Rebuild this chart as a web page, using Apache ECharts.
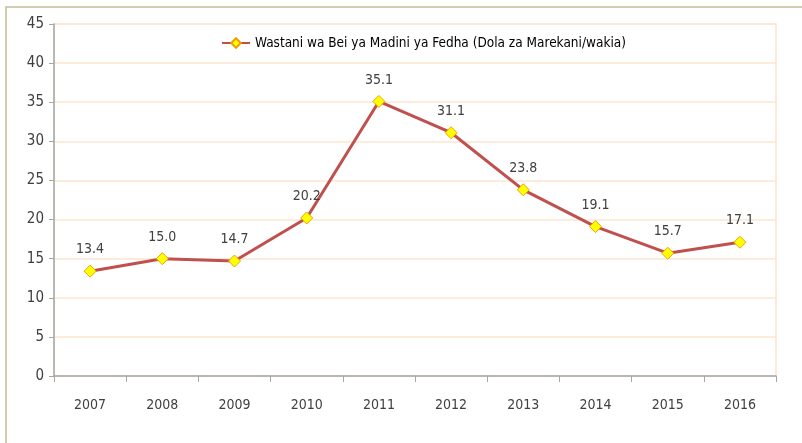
<!DOCTYPE html>
<html>
<head>
<meta charset="utf-8">
<script src="https://cdn.jsdelivr.net/npm/echarts@6/dist/echarts.min.js"></script>
<style>
html, body { margin: 0; padding: 0; background: #fff; }
#chart { width: 802px; height: 443px; }
</style>
</head>
<body>
<div id="chart"></div>
<script>
var years = ['2007', '2008', '2009', '2010', '2011', '2012', '2013', '2014', '2015', '2016'];
var bei = [13.4, 15.0, 14.7, 20.2, 35.1, 31.1, 23.8, 19.1, 15.7, 17.1];
var seriesName = 'Wastani wa Bei ya Madini ya Fedha (Dola za Marekani/wakia)';

var font = '"Liberation Sans Narrow", "DejaVu Sans Condensed", sans-serif';

var chart = echarts.init(document.getElementById('chart'));
chart.setOption({
  animation: false,
  textStyle: { fontFamily: font },
  // outer frame of the chart area
  graphic: [{
    type: 'rect',
    shape: { x: 6, y: 7, width: 900, height: 500 },
    style: { fill: 'none', stroke: '#c4bd97', lineWidth: 1.5 },
    silent: true
  }],
  legend: {
    data: [seriesName],
    left: 216,
    top: 31,
    itemWidth: 28,
    itemHeight: 12,
    itemGap: 3,
    textStyle: { fontFamily: font, fontSize: 13.5, color: '#000' }
  },
  grid: {
    left: 54,
    top: 24,
    right: 26,
    bottom: 67,
    show: true,
    borderColor: '#fde4d0',
    borderWidth: 1.5
  },
  xAxis: {
    type: 'category',
    data: years,
    boundaryGap: true,
    axisLine: { lineStyle: { color: '#a6a6a6', width: 1.5 } },
    axisTick: { show: true, length: 6, lineStyle: { color: '#a6a6a6' } },
    axisLabel: { color: '#404040', fontSize: 14, margin: 22, fontFamily: font }
  },
  yAxis: {
    type: 'value',
    min: 0,
    max: 45,
    interval: 5,
    axisLine: { show: true, lineStyle: { color: '#a6a6a6', width: 1.5 } },
    axisTick: { show: true, length: 5, lineStyle: { color: '#a6a6a6' } },
    axisLabel: { color: '#404040', fontSize: 15, margin: 10, fontFamily: font },
    splitLine: { lineStyle: { color: '#fde4d0', width: 1.5 } }
  },
  series: [{
    name: seriesName,
    type: 'line',
    data: bei,
    lineStyle: { color: '#c0504d', width: 3 },
    itemStyle: { color: '#ffff00', borderColor: '#f0a000', borderWidth: 1 },
    symbol: 'diamond',
    symbolSize: 12,
    label: {
      show: true,
      position: 'top',
      distance: 8,
      color: '#404040',
      fontSize: 14,
      fontFamily: font,
      formatter: function (p) { return p.value.toFixed(1); }
    }
  }]
});
</script>
</body>
</html>
